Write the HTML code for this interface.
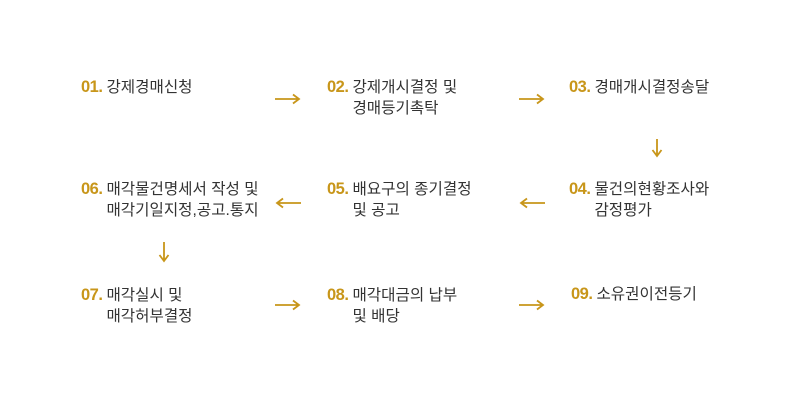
<!DOCTYPE html>
<html><head><meta charset="utf-8"><style>
body{margin:0;width:810px;height:411px;background:#fff;position:relative;font-family:"Liberation Sans","Noto Sans CJK KR",sans-serif;overflow:hidden}
.t{position:absolute;display:flex;align-items:flex-start;font-size:15.6px;color:#333;line-height:21px;white-space:nowrap}
.n{color:#c8961a;font-weight:bold;font-size:16.5px;letter-spacing:-0.5px;margin-right:4px}
svg{position:absolute;left:0;top:0}
</style></head><body>
<div class="t" style="left:81px;top:77px"><span class="n">01.</span><div>강제경매신청</div></div>
<div class="t" style="left:327px;top:77px"><span class="n">02.</span><div>강제개시결정 및<br>경매등기촉탁</div></div>
<div class="t" style="left:569px;top:77px"><span class="n">03.</span><div>경매개시결정송달</div></div>
<div class="t" style="left:81px;top:179px"><span class="n">06.</span><div>매각물건명세서 작성 및<br>매각기일지정,공고.통지</div></div>
<div class="t" style="left:327px;top:179px"><span class="n">05.</span><div>배요구의 종기결정<br>및 공고</div></div>
<div class="t" style="left:569px;top:179px"><span class="n">04.</span><div>물건의현황조사와<br>감정평가</div></div>
<div class="t" style="left:81px;top:285px"><span class="n">07.</span><div>매각실시 및<br>매각허부결정</div></div>
<div class="t" style="left:327px;top:285px"><span class="n">08.</span><div>매각대금의 납부<br>및 배당</div></div>
<div class="t" style="left:571px;top:284px"><span class="n">09.</span><div>소유권이전등기</div></div>
<svg width="810" height="411" fill="none" stroke="#c8961a" stroke-width="1.8">
<path d="M275 99H299M293 94.5L299 99L293 103.5"/>
<path d="M519 99H543M537 94.5L543 99L537 103.5"/>
<path d="M657 139V156M652.5 150L657 156L661.5 150"/>
<path d="M301 203H277M283 198.5L277 203L283 207.5"/>
<path d="M545 203H521M527 198.5L521 203L527 207.5"/>
<path d="M164 242V261M159.5 255L164 261L168.5 255"/>
<path d="M275 305H299M293 300.5L299 305L293 309.5"/>
<path d="M519 305H543M537 300.5L543 305L537 309.5"/>
</svg>
</body></html>
